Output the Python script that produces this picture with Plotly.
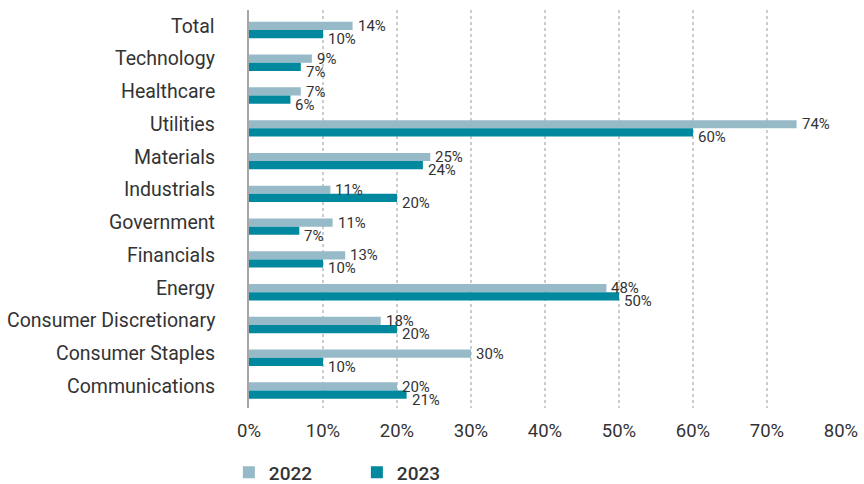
import plotly.graph_objects as go

categories = ["Total", "Technology", "Healthcare", "Utilities", "Materials", "Industrials",
              "Government", "Financials", "Energy", "Consumer Discretionary",
              "Consumer Staples", "Communications"]
values_2022 = [14, 8.5, 7, 74, 24.5, 11, 11.3, 13, 48.3, 17.8, 30, 20]
values_2023 = [10, 7, 5.6, 60, 23.5, 20, 6.8, 10, 50, 20, 10, 21.3]
labels_2022 = ["14%", "9%", "7%", "74%", "25%", "11%", "11%", "13%", "48%", "18%", "30%", "20%"]
labels_2023 = ["10%", "7%", "6%", "60%", "24%", "20%", "7%", "10%", "50%", "20%", "10%", "21%"]
x_ticks = [0, 10, 20, 30, 40, 50, 60, 70, 80]
x_tick_text = ["0%", "10%", "20%", "30%", "40%", "50%", "60%", "70%", "80%"]

c2022 = "#97BAC8"
c2023 = "#00889E"
font = "Roboto"

fig = go.Figure()
fig.add_trace(go.Bar(name="2022", y=categories, x=values_2022, orientation="h",
                     marker=dict(color=c2022, line=dict(width=0))))
fig.add_trace(go.Bar(name="2023", y=categories, x=values_2023, orientation="h",
                     marker=dict(color=c2023, line=dict(width=0))))

annotations = []
for cat in categories:
    annotations.append(dict(x=0, xref="paper", y=cat, yref="y", text=cat, showarrow=False,
                            xanchor="right", yanchor="middle", xshift=-32, yshift=4,
                            font=dict(family=font, size=19.5, color="#333333")))
for cat, v, t in zip(categories, values_2022, labels_2022):
    annotations.append(dict(x=v, y=cat, text=t, showarrow=False, xanchor="left",
                            yanchor="middle", xshift=3, yshift=4,
                            font=dict(family=font, size=15, color="#333333")))
for cat, v, t in zip(categories, values_2023, labels_2023):
    annotations.append(dict(x=v, y=cat, text=t, showarrow=False, xanchor="left",
                            yanchor="middle", xshift=3, yshift=-9,
                            font=dict(family=font, size=15, color="#333333")))

fig.update_layout(
    width=864, height=484,
    margin=dict(l=249, r=23, t=10, b=76, autoexpand=False),
    barmode="group", bargap=0.5, bargroupgap=0,
    plot_bgcolor="white", paper_bgcolor="white",
    font=dict(family=font, color="#333333"),
    annotations=annotations,
    legend=dict(orientation="h", x=-0.034, xanchor="left",
                y=0.024, yref="container", yanchor="middle",
                font=dict(family=font, size=19, color="#333333", weight=500),
                entrywidth=83, entrywidthmode="pixels", itemsizing="constant"),
    showlegend=True,
)
fig.update_xaxes(range=[0, 80], tickvals=x_ticks, ticktext=x_tick_text,
                 showgrid=True, gridcolor="#CCCCCC", griddash="dot", gridwidth=1.5,
                 zeroline=False, showline=False, automargin=False,
                 tickfont=dict(family=font, size=18.5, color="#333333"),
                 ticklabelstandoff=9)
fig.update_yaxes(autorange="reversed", showline=True, linecolor="#A6A6A6", linewidth=2,
                 showgrid=False, ticks="", automargin=False, showticklabels=False)

fig.write_html("out.html")
